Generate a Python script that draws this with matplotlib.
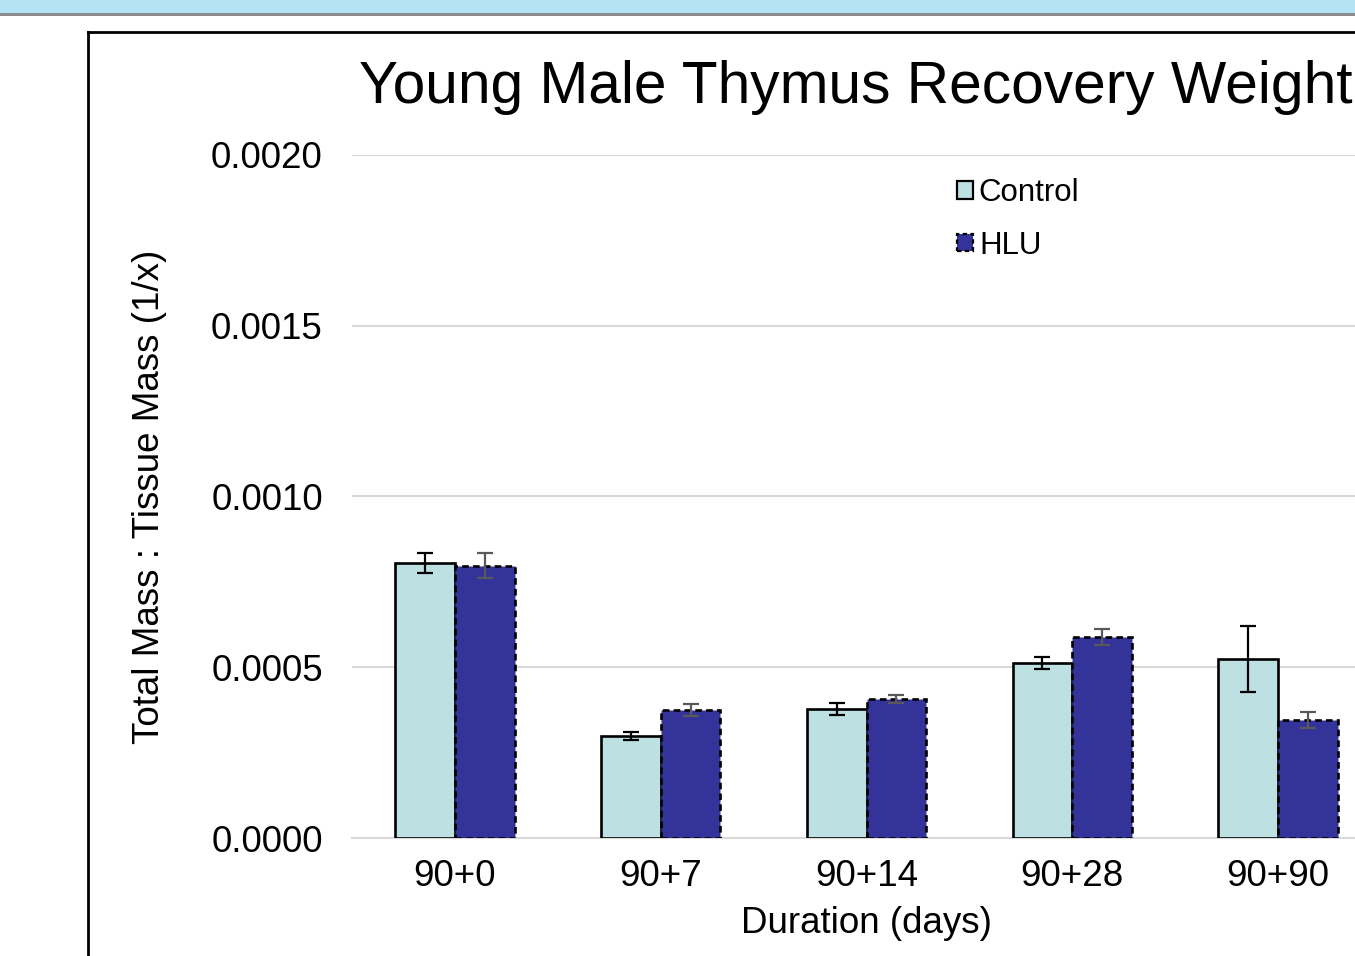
import matplotlib
matplotlib.use("Agg")
import matplotlib.pyplot as plt
from matplotlib.patches import Rectangle, Patch
from matplotlib.lines import Line2D
import numpy as np

plt.rcParams['font.family'] = ['Liberation Sans', 'DejaVu Sans']

categories = ["90+0", "90+7", "90+14", "90+28", "90+90"]
control = [0.000805, 0.000299, 0.000378, 0.000512, 0.000524]
control_err = [0.000030, 0.000012, 0.000018, 0.000018, 0.000097]
hlu = [0.000797, 0.000375, 0.000407, 0.000589, 0.000346]
hlu_err = [0.000037, 0.000018, 0.000012, 0.000023, 0.000023]
yticks = [0.0, 0.0005, 0.0010, 0.0015, 0.0020]
ytick_labels = ["0.0000", "0.0005", "0.0010", "0.0015", "0.0020"]

W, H = 1355, 956
fig = plt.figure(figsize=(W / 100, H / 100), dpi=100)

def fx(x):
    return x / W

def fy(y):
    return 1 - y / H

# Top band and frame
fig.add_artist(Rectangle((0, fy(13)), 1, 13 / H, transform=fig.transFigure,
                         facecolor="#b5e3f6", edgecolor="none", zorder=0))
fig.add_artist(Rectangle((0, fy(15.5)), 1, 2.5 / H, transform=fig.transFigure,
                         facecolor="#8c8c8c", edgecolor="none", zorder=0))
fig.add_artist(Line2D([fx(88), fx(88)], [fy(32), 0], transform=fig.transFigure,
                      color="black", lw=2, zorder=0))
fig.add_artist(Line2D([fx(88), 1], [fy(32), fy(32)], transform=fig.transFigure,
                      color="black", lw=2, zorder=0))

ax_left, ax_right, ax_top, ax_bottom = 352, 1381, 155, 838
ax = fig.add_axes([fx(ax_left), fy(ax_bottom), (ax_right - ax_left) / W,
                   (ax_bottom - ax_top) / H])
ax.set_xlim(-0.5, len(categories) - 0.5)
ax.set_ylim(0, 0.002)

x = np.arange(len(categories))
w = 0.29
off = 0.145
ax.bar(x - off, control, w, color="#bde0e3", edgecolor="black", linewidth=1.9, zorder=3)
ax.bar(x + off, hlu, w, color="#333399", edgecolor="black", linewidth=1.9,
       linestyle=(0, (2.5, 1.6)), zorder=3)
ax.errorbar(x - off, control, yerr=control_err, fmt="none", ecolor="black",
            elinewidth=1.6, capsize=6, capthick=1.6, zorder=4)
ax.errorbar(x + off, hlu, yerr=hlu_err, fmt="none", ecolor="#595959",
            elinewidth=1.6, capsize=6, capthick=1.6, zorder=4)

ax.set_yticks(yticks)
ax.set_yticklabels(ytick_labels)
ax.set_xticks(x)
ax.set_xticklabels(categories)
ax.yaxis.grid(True, color="#d9d9d9", linewidth=1.5, zorder=0)
ax.set_axisbelow(True)
for s in ["top", "right", "left"]:
    ax.spines[s].set_visible(False)
ax.spines["bottom"].set_color("#d9d9d9")
ax.spines["bottom"].set_linewidth(1.5)
ax.tick_params(axis="both", length=0, labelsize=26.5, colors="black")
ax.tick_params(axis="y", pad=21)
ax.tick_params(axis="x", pad=15)

ax.set_xlabel("Duration (days)", fontsize=26.5, labelpad=9)
ax.set_ylabel("Total Mass : Tissue Mass (1/x)", fontsize=26.5, labelpad=32)

fig.text(fx(856), fy(103), "Young Male Thymus Recovery Weight", fontsize=42.2,
         ha="center", va="baseline")

handles = [Patch(facecolor="#bde0e3", edgecolor="black", linewidth=1.6),
           Patch(facecolor="#333399", edgecolor="black", linewidth=1.6, linestyle=(0, (2, 1.5)))]
leg = fig.legend(handles, ["Control", "HLU"], loc="upper left",
                 bbox_to_anchor=(fx(957), fy(178)), bbox_transform=fig.transFigure,
                 frameon=False, fontsize=22.5, handlelength=0.5, handleheight=0.5,
                 handletextpad=0.2, labelspacing=0.72, borderpad=0, borderaxespad=0)

fig.savefig("out.png", dpi=100)
